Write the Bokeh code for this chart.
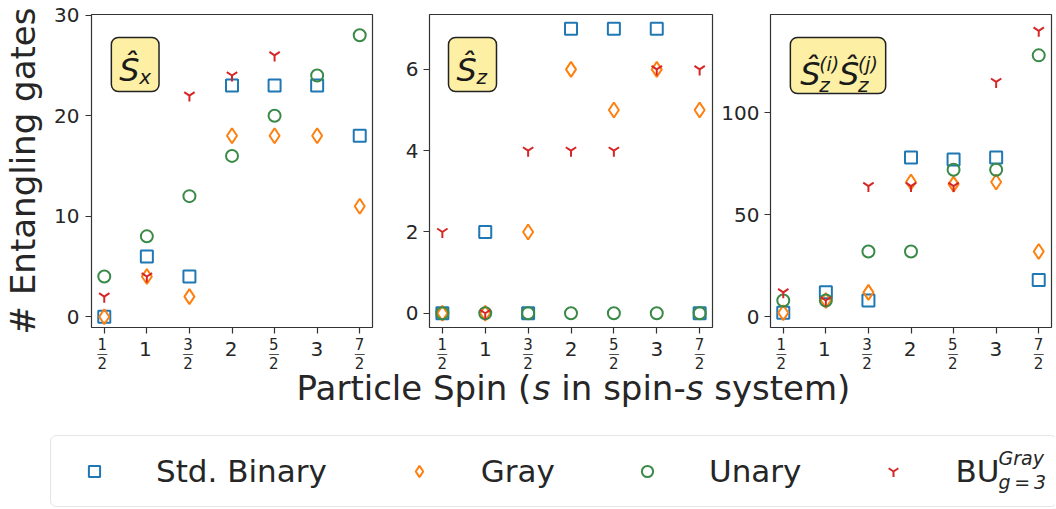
from bokeh.plotting import figure
from bokeh.models import (Range1d, FixedTicker, Label, Legend, LegendItem, BoxAnnotation)
from bokeh.layouts import column, row
from bokeh.embed import file_html
from bokeh.resources import INLINE

NaN = float("nan")

# ---------------- data ----------------
spins = [0.5, 1, 1.5, 2, 2.5, 3, 3.5]
spin_labels = ["1/2", "1", "3/2", "2", "5/2", "3", "7/2"]
series_names = ["Std. Binary", "Gray", "Unary", "BU"]

# S_x panel (BU values at 3 and 7/2 are off-scale, not visible)
sx_binary = [0, 6, 4, 23, 23, 23, 18]
sx_gray = [0, 4, 2, 18, 18, 18, 11]
sx_unary = [4, 8, 12, 16, 20, 24, 28]
sx_bu = [2, 4, 22, 24, 26, NaN, NaN]

# S_z panel
sz_binary = [0, 2, 0, 7, 7, 7, 0]
sz_gray = [0, 0, 2, 6, 5, 6, 5]
sz_unary = [0, 0, 0, 0, 0, 0, 0]
sz_bu = [2, 0, 4, 4, 4, 6, 6]

# S_z^(i) S_z^(j) panel
zz_binary = [2, 12, 8, 78, 77, 78, 18]
zz_gray = [2, 8, 12, 66, 65, 66, 32]
zz_unary = [8, 8, 32, 32, 72, 72, 128]
zz_bu = [12, 8, 64, 64, 64, 115, 140]

yticks_sx = [0, 10, 20, 30]
yticks_sz = [0, 2, 4, 6]
yticks_zz = [0, 50, 100]

# ---------------- styles ----------------
FONT = "DejaVu Sans"
TXT = "#262626"
FRAME_W, FRAME_H = 283, 313
TOP, BOTTOM = 14, 7
XR = (0.35, 3.65)
TOTAL_W = 1055
K = 0.28   # baseline correction (fraction of font size)

STYLES = [
    dict(marker="square", color="#1f77b4", size=12),
    dict(marker="diamond", color="#ff7f0e", size=15),
    dict(marker="circle", color="#3a8a47", size=12),
    dict(marker="y", color="#d62728", size=12),
]


def dx(p, px):
    return p.x_range.start + px * (p.x_range.end - p.x_range.start) / FRAME_W


def dy_top(p, px):
    return p.y_range.end - px * (p.y_range.end - p.y_range.start) / FRAME_H


def make_panel(series, yr, yticks, left, right, ylabel=None):
    p = figure(width=left + FRAME_W + right, height=TOP + FRAME_H + BOTTOM,
               x_range=Range1d(*XR), y_range=Range1d(*yr),
               output_backend="svg", toolbar_location=None,
               min_border_left=left, min_border_right=right,
               min_border_top=TOP, min_border_bottom=BOTTOM)
    p.grid.visible = False
    p.outline_line_color = "#333333"
    p.outline_line_width = 1.2
    for ax in (p.xaxis, p.yaxis):
        ax.axis_line_color = None
        ax.major_tick_line_color = "#333333"
        ax.major_tick_line_width = 1.2
        ax.major_tick_out = 6
        ax.major_tick_in = 0
        ax.minor_tick_line_color = None
        ax.major_label_text_font = FONT
        ax.major_label_text_font_size = "20px"
        ax.major_label_text_color = TXT
    p.yaxis.ticker = FixedTicker(ticks=yticks)
    p.yaxis.major_label_standoff = 6 if ylabel else 5
    p.xaxis.ticker = FixedTicker(ticks=spins)
    # x tick labels are drawn in the strip below (stacked fractions)
    p.xaxis.major_label_standoff = 0
    p.xaxis.major_label_text_font_size = "0px"
    p.xaxis.major_label_overrides = {(int(s) if float(s).is_integer() else s): "" for s in spins}
    if ylabel:
        p.yaxis.axis_label = ylabel
        p.yaxis.axis_label_text_font = FONT
        p.yaxis.axis_label_text_font_size = "34px"
        p.yaxis.axis_label_text_font_style = "normal"
        p.yaxis.axis_label_text_color = TXT
        p.yaxis.axis_label_standoff = 8

    for vals, st in zip(series, STYLES):
        p.scatter(x=spins, y=vals, marker=st["marker"], size=st["size"],
                  line_color=st["color"], fill_color=None, line_width=2)
    return p


def add_title(p, box, pieces):
    l, t, w, h = box
    p.add_layout(BoxAnnotation(left=dx(p, l), right=dx(p, l + w),
                               top=dy_top(p, t), bottom=dy_top(p, t + h),
                               fill_color="#fdf0a4", fill_alpha=1,
                               line_color="#222222", line_alpha=1, line_width=1.5,
                               border_radius=7))
    for txt, x, base, fs in pieces:
        p.add_layout(Label(x=dx(p, x), y=dy_top(p, base - K * fs), text=txt, text_font=FONT,
                           text_font_size=f"{fs}px", text_font_style="italic",
                           text_color="#1a1a1a", text_align="left",
                           text_baseline="alphabetic"))


W1 = 89 + FRAME_W + 6
W2 = 51 + FRAME_W + 6
W3 = TOTAL_W - W1 - W2
p1 = make_panel([sx_binary, sx_gray, sx_unary, sx_bu], (-1.07, 30.07), yticks_sx,
                89, 6, ylabel="# Entangling gates")
p2 = make_panel([sz_binary, sz_gray, sz_unary, sz_bu], (-0.35, 7.35), yticks_sz, 51, 6)
p3 = make_panel([zz_binary, zz_gray, zz_unary, zz_bu], (-5.2, 148), yticks_zz, 50, W3 - 50 - FRAME_W)

add_title(p1, (20, 23, 48, 54), [("\u015c", 28, 64, 32), ("x", 48, 68, 20)])
add_title(p2, (19, 23, 48, 54), [("\u015c", 27, 64, 32), ("z", 47, 68, 20)])
add_title(p3, (20, 23, 96, 56), [("\u015c", 30, 68, 32), ("z", 49, 76, 20), ("(i)", 49, 55, 19),
                                 ("\u015c", 69, 68, 32), ("z", 88, 76, 20), ("(j)", 88, 55, 19)])

# ---------------- bottom: tick labels, x label, legend ----------------
PAGE_H = 509
BTOP = TOP + FRAME_H + BOTTOM          # page y where bottom figure starts
BH = PAGE_H - BTOP


def by(page_y, fs=0):
    return PAGE_H - (page_y - K * fs)


pb = figure(width=TOTAL_W, height=BH, x_range=Range1d(0, TOTAL_W), y_range=Range1d(0, BH),
            output_backend="svg", toolbar_location=None, min_border=0,
            x_axis_type=None, y_axis_type=None)
pb.outline_line_color = None

# x ranges of the bottom strip aligned with each panel's frame
frame_lefts = {"p1": 89, "p2": W1 + 51, "p3": W1 + W2 + 50}
for name, L in frame_lefts.items():
    s = (XR[1] - XR[0]) / FRAME_W
    pb.extra_x_ranges[name] = Range1d(XR[0] - L * s, XR[1] + (TOTAL_W - L - FRAME_W) * s)

for name in frame_lefts:
    for sp, lab in zip(spins, spin_labels):
        if "/" in lab:
            num, den = lab.split("/")
            parts = ((num, 348, 15), ("\u2014", 355.6, 11), (den, 366.7, 15))
        else:
            parts = ((lab, 354, 20),)
        for txt, py, fs in parts:
            pb.add_layout(Label(x=sp, y=by(py, fs), x_range_name=name, text=txt, text_font=FONT,
                                text_font_size=f"{fs}px", text_color=TXT,
                                text_align="center", text_baseline="alphabetic"))

# x-axis title with italic "s"
ADV = {'P': 1235, 'a': 1255, 'r': 842, 't': 803, 'i': 569, 'c': 1126, 'l': 569,
       'e': 1260, ' ': 651, 'S': 1300, 'p': 1300, 'n': 1298, '(': 799, ')': 799,
       's': 1067, '-': 739, 'y': 1212, 'm': 1995}
XL_FS = 34
segments = [("Particle Spin (", False), ("s", True), (" in spin-", False),
            ("s", True), (" system)", False)]


def tw(s):
    return sum(ADV[c] for c in s) / 2048 * XL_FS


xpos = 573 - sum(tw(s) for s, _ in segments) / 2
for txt, it in segments:
    lead = len(txt) - len(txt.lstrip(" "))
    pb.add_layout(Label(x=xpos + tw(" " * lead), y=by(397, XL_FS), text=txt.strip(" "),
                        text_font=FONT, text_font_size=f"{XL_FS}px",
                        text_font_style="italic" if it else "normal",
                        text_color=TXT, text_align="left", text_baseline="alphabetic"))
    xpos += tw(txt)

# legend proxies: one non-finite point each, so nothing is drawn in the strip
items = []
for name, st in zip(series_names, STYLES):
    r = pb.scatter(x=[NaN], y=[NaN], marker=st["marker"], size=st["size"],
                   line_color=st["color"], fill_color=None, line_width=2)
    label = name + "    " if name == "BU" else name
    items.append(LegendItem(label=label, renderers=[r]))

legend = Legend(items=items, orientation="horizontal", location=(50, 2),
                glyph_width=52, glyph_height=28, label_standoff=36, spacing=66,
                padding=17, margin=0,
                label_text_font=FONT, label_text_font_size="31px",
                label_text_color=TXT,
                border_line_color="#cccccc", border_line_width=1.2,
                background_fill_color="white", background_fill_alpha=0)
try:
    legend.border_radius = 6
except Exception:
    pass
pb.add_layout(legend)

# sub/superscripts of the BU legend label
pb.add_layout(Label(x=998, y=by(463, 19), text="Gray", text_font=FONT, text_font_size="19px",
                    text_font_style="italic", text_color=TXT, text_baseline="alphabetic"))
pb.add_layout(Label(x=998, y=by(487, 19), text="g\u2009=\u20093", text_font=FONT,
                    text_font_size="19px", text_font_style="italic", text_color=TXT,
                    text_baseline="alphabetic"))

layout = column(row(p1, p2, p3), pb)
open("out.html", "w").write(file_html(layout, INLINE))
